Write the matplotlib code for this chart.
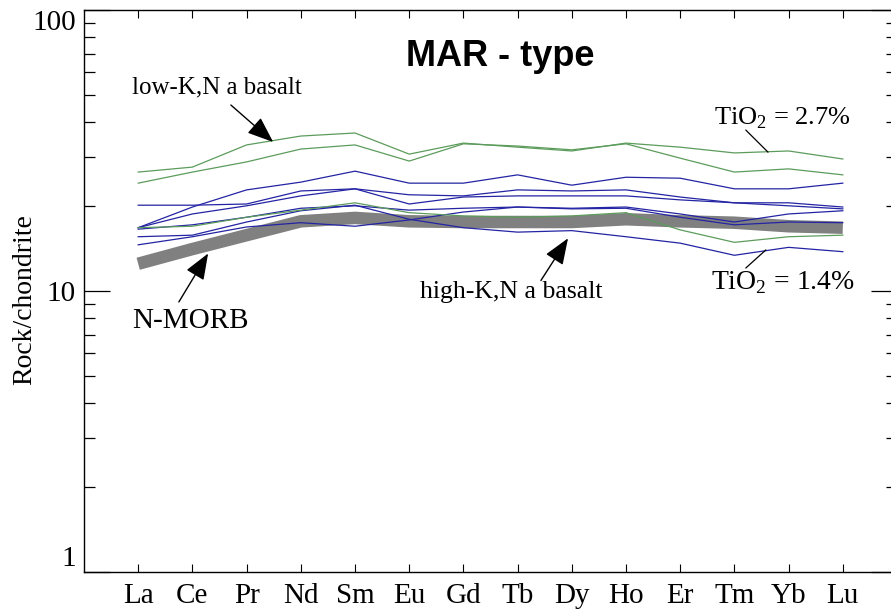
import matplotlib
matplotlib.use("Agg")
import matplotlib.pyplot as plt
from matplotlib.ticker import FixedLocator, NullFormatter

plt.rcParams['font.family'] = ['Liberation Serif', 'DejaVu Serif']
plt.rcParams['mathtext.fontset'] = 'custom'
plt.rcParams['mathtext.rm'] = 'Liberation Serif'

elements = ['La', 'Ce', 'Pr', 'Nd', 'Sm', 'Eu', 'Gd', 'Tb', 'Dy', 'Ho', 'Er', 'Tm', 'Yb', 'Lu']

# low-K,Na basalt samples (green)
green_a = [26.5, 27.6, 33.1, 35.6, 36.5, 30.7, 33.6, 32.5, 31.5, 33.6, 32.5, 31.0, 31.5, 29.5]
green_b = [24.2, 26.5, 28.8, 32.0, 33.1, 29.0, 33.4, 32.8, 31.8, 33.4, 29.7, 26.5, 27.2, 25.9]
green_c = [16.8, 17.0, 18.3, 19.4, 20.6, 19.0, 18.5, 18.3, 18.5, 19.0, 16.5, 14.9, 15.6, 15.8]

# high-K,Na basalt samples (blue)
blue_1 = [16.8, 19.9, 22.9, 24.4, 26.7, 24.2, 24.2, 25.9, 23.8, 25.4, 25.2, 23.1, 23.1, 24.2]
blue_2 = [20.2, 20.2, 20.4, 22.7, 23.1, 22.0, 21.8, 22.9, 22.7, 22.9, 21.6, 20.6, 20.6, 19.9]
blue_3 = [16.8, 18.8, 20.1, 21.8, 23.1, 20.4, 21.6, 21.8, 21.8, 21.8, 21.1, 20.6, 20.1, 19.6]
blue_4 = [15.6, 15.8, 17.6, 19.3, 20.2, 18.0, 16.8, 16.2, 16.4, 15.6, 14.8, 13.4, 14.3, 13.8]
blue_5 = [14.6, 15.6, 16.9, 17.5, 17.0, 17.9, 19.1, 19.9, 19.7, 19.9, 18.8, 17.6, 18.8, 19.3]
blue_6 = [16.6, 17.2, 18.3, 19.7, 20.1, 19.4, 19.7, 19.9, 19.6, 19.7, 18.3, 17.2, 17.6, 17.5]

# N-MORB reference pattern
n_morb = [12.5, 14.1, 15.8, 17.7, 18.2, 17.7, 17.6, 17.6, 17.6, 18.0, 17.7, 17.5, 17.0, 16.8]

greens = [green_a, green_b, green_c]
blues = [blue_1, blue_2, blue_3, blue_4, blue_5, blue_6]

W, H = 891, 614
fig = plt.figure(figsize=(W / 100, H / 100), dpi=100)
left, right, bottom, top = 84, 897, 572, 10
ax = fig.add_axes([left / W, (H - bottom) / H, (right - left) / W, (bottom - top) / H])

x = list(range(1, len(elements) + 1))

ax.plot(x, n_morb, color='#808080', lw=9, solid_capstyle='butt', zorder=2)
for s in blues:
    ax.plot(x, s, color='#2424a4', lw=0.9, zorder=3)
for s in greens:
    ax.plot(x, s, color='#5c9c5c', lw=0.9, zorder=3)

ax.set_yscale('log')
ax.set_ylim(1, 100)
ax.set_xlim(0, 15)

ax.set_xticks(x)
ax.set_xticklabels(elements, fontsize=21)
ax.tick_params(axis='x', direction='in', length=6, width=0.8, top=True, bottom=True, pad=8)

ax.yaxis.set_major_locator(FixedLocator([1, 10, 100]))
ax.set_yticklabels(['1', '10', '100'], fontsize=21)
minor = [v * d for d in (1, 10) for v in range(2, 10)]
ax.yaxis.set_minor_locator(FixedLocator(minor))
ax.yaxis.set_minor_formatter(NullFormatter())
ax.tick_params(axis='y', which='major', direction='in', length=19, width=0.9, left=True, right=True, pad=6)
ax.tick_params(axis='y', which='minor', direction='in', length=8, width=0.9, left=True, right=True)
labs = ax.get_yticklabels()
labs[0].set_va('bottom')
labs[2].set_va('top')

for sp in ax.spines.values():
    sp.set_linewidth(1.0)

ax.set_ylabel('Rock/chondrite', fontsize=20)
ax.yaxis.set_label_coords((37 - left) / (right - left), (bottom - 300) / (bottom - top))

ax.text((500 - left) / (right - left), (bottom - 57) / (bottom - top), 'MAR - type',
        transform=ax.transAxes, ha='center', va='center', fontsize=26, fontweight='bold',
        family=['Liberation Sans', 'DejaVu Sans'])

arrow = dict(arrowstyle='-|>,head_length=0.9,head_width=0.35', color='black', lw=1.0,
             mutation_scale=18, shrinkA=0, shrinkB=0)
line = dict(arrowstyle='-', color='black', lw=0.9, shrinkA=0, shrinkB=0)

ax.text(2.45, 52.8, 'low-K,N a basalt', fontsize=18, ha='center', va='center')
ax.annotate('', xy=(3.49, 33.9), xytext=(2.71, 45.9), arrowprops=arrow)

ax.text(1.97, 7.82, 'N-MORB', fontsize=21, ha='center', va='center')
ax.annotate('', xy=(2.29, 13.6), xytext=(1.75, 9.14), arrowprops=arrow)

ax.text(7.88, 9.92, 'high-K,N a basalt', fontsize=18.5, ha='center', va='center')
ax.annotate('', xy=(8.93, 15.4), xytext=(8.43, 10.9), arrowprops=arrow)

ax.text(12.88, 41.3, r'TiO$_\mathrm{2}$ = 2.7%', fontsize=19, ha='center', va='center')
ax.annotate('', xy=(12.62, 31.2), xytext=(12.21, 37.4), arrowprops=line)

ax.text(12.9, 10.7, r'TiO$_\mathrm{2}$ = 1.4%', fontsize=20, ha='center', va='center')
ax.annotate('', xy=(12.58, 14.0), xytext=(12.21, 12.07), arrowprops=line)

fig.savefig('out.png', dpi=100)
